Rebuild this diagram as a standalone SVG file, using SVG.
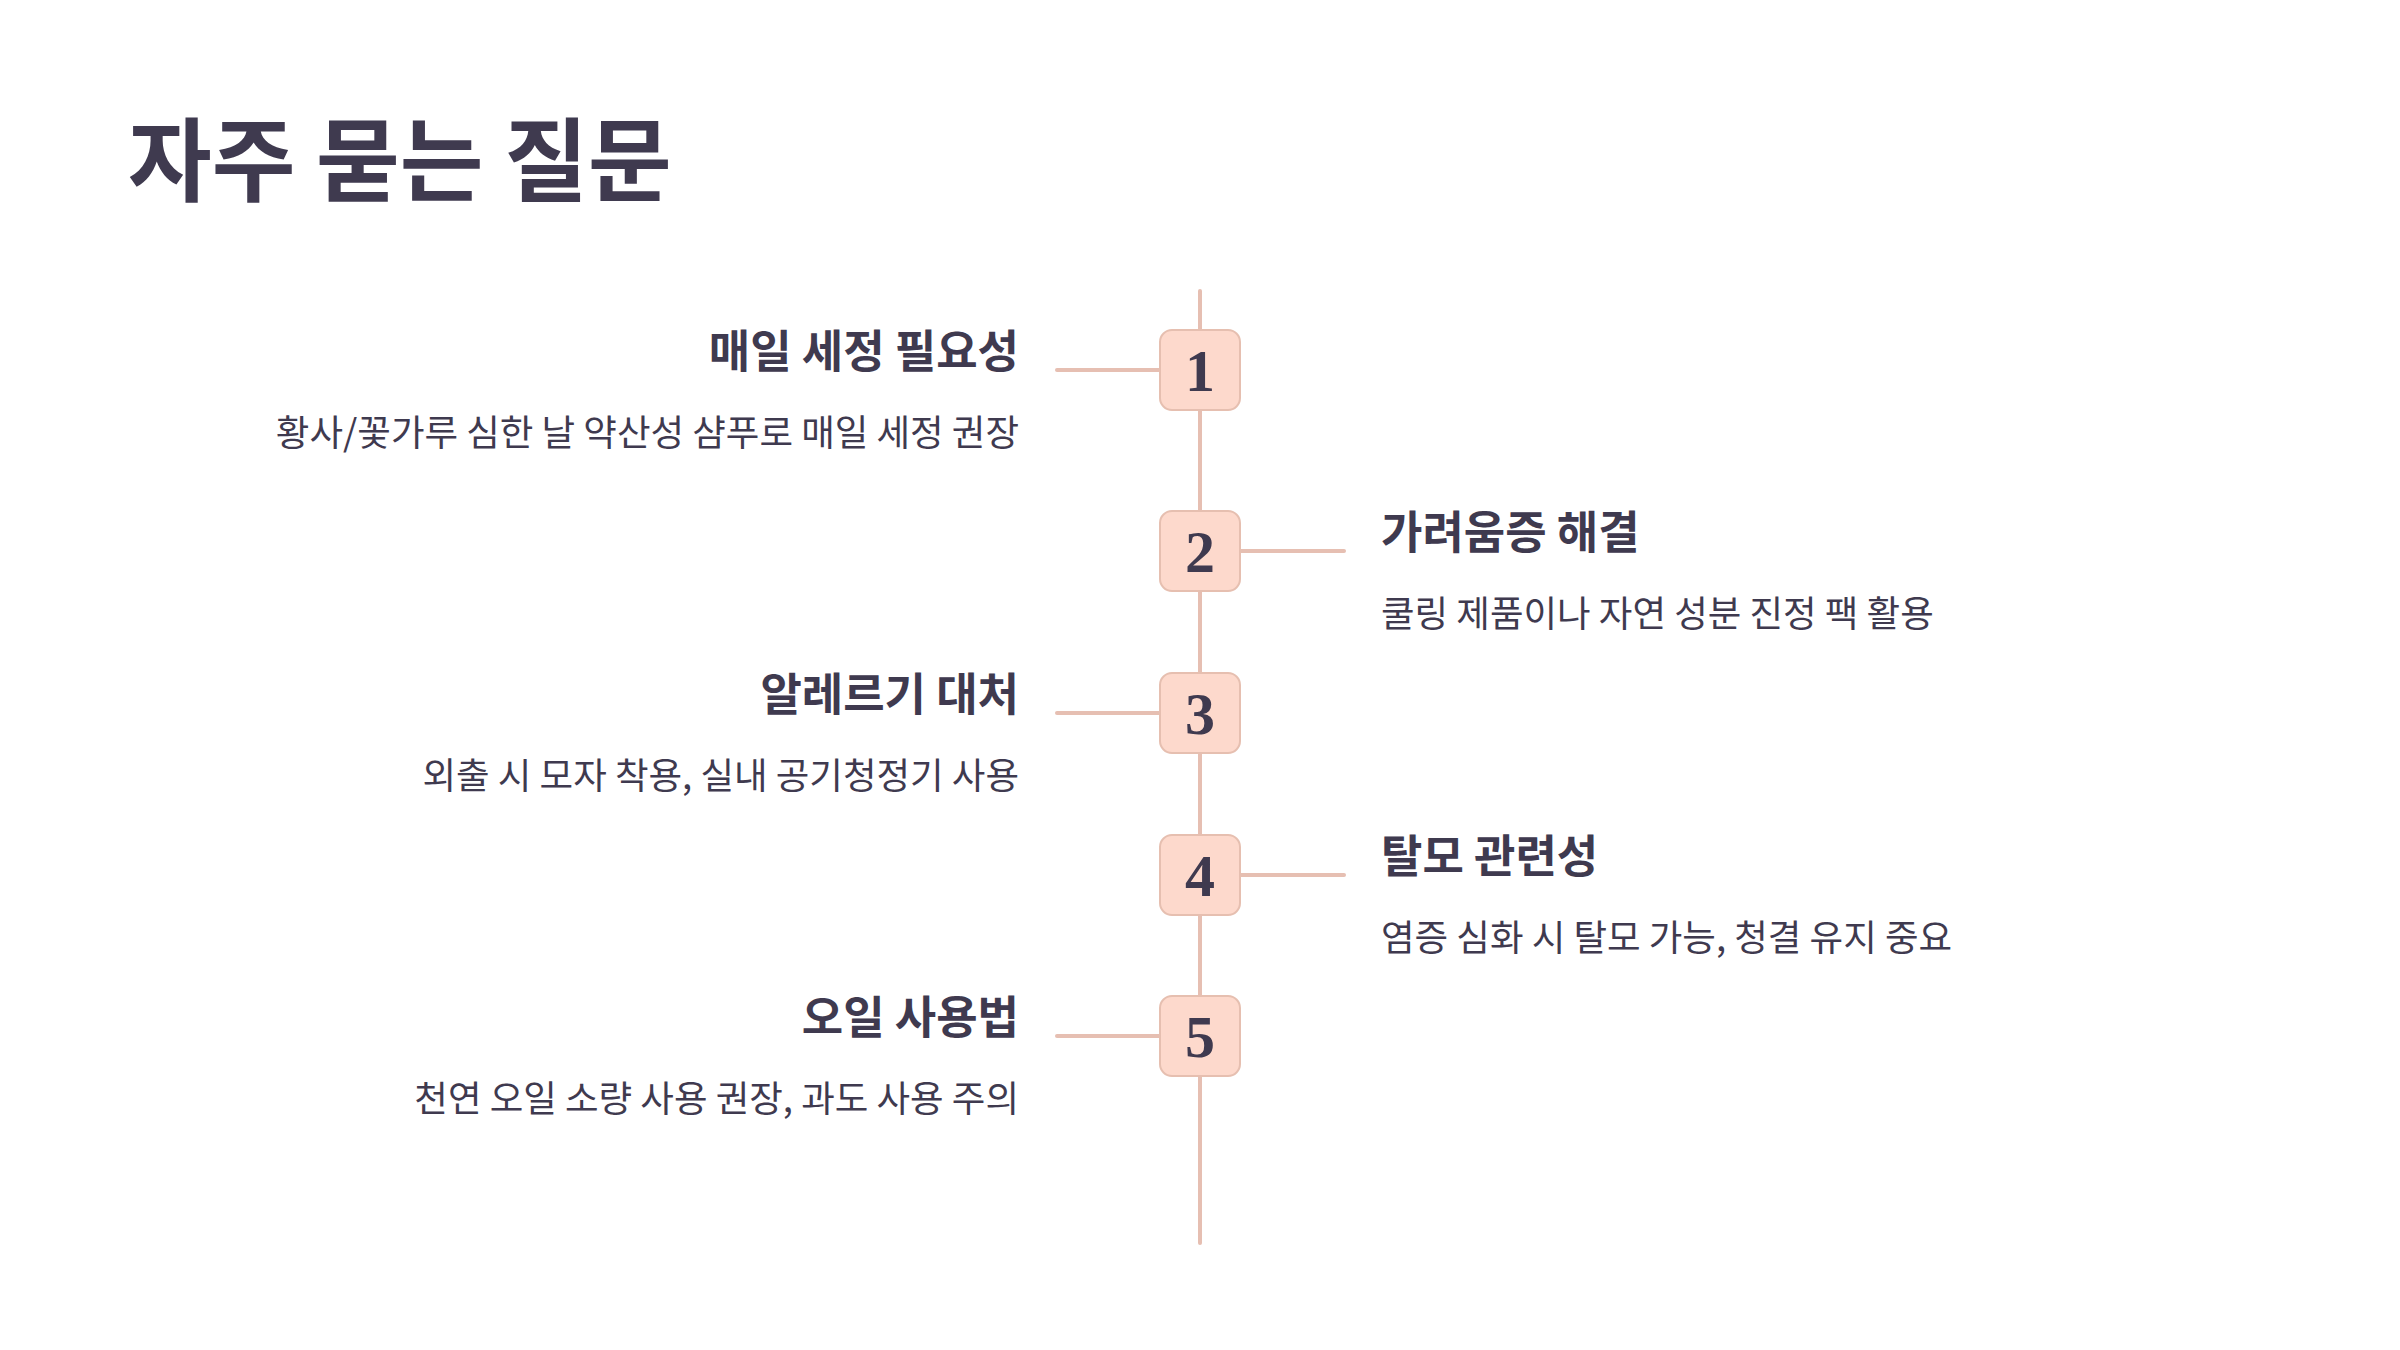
<svg xmlns="http://www.w3.org/2000/svg" width="2400" height="1350" viewBox="0 0 2400 1350">
<style>
.t{font-family:"Noto Sans CJK KR","Noto Sans",sans-serif;fill:#3f3a4f}
.h{font-size:45px;font-weight:700}
.d{font-size:36.5px;font-weight:400}
.L{text-anchor:end}
.box{fill:#fdd9cc;stroke:#e6bfb0;stroke-width:2}
.num{font-family:"Liberation Serif","DejaVu Serif",serif;font-size:60px;font-weight:700;fill:#3f3a4f;text-anchor:middle}
.ln{stroke:#e6bfb2;stroke-width:4;stroke-linecap:round;fill:none}
</style>
<rect width="2400" height="1350" fill="#ffffff"/>
<text class="t" x="128" y="194" style="font-size:91px;font-weight:700">자주 묻는 질문</text>
<g id="connectors">
<line class="ln" x1="1200" y1="291" x2="1200" y2="1243"/>
<line class="ln" x1="1057" y1="370" x2="1160" y2="370"/>
<line class="ln" x1="1240" y1="551" x2="1344" y2="551"/>
<line class="ln" x1="1057" y1="713" x2="1160" y2="713"/>
<line class="ln" x1="1240" y1="875" x2="1344" y2="875"/>
<line class="ln" x1="1057" y1="1036" x2="1160" y2="1036"/>
</g>
<g id="node1">
<rect class="box" x="1160" y="330" width="80" height="80" rx="12"/>
<text class="num" x="1200" y="391">1</text>
<text class="t h L" x="1019" y="368">매일 세정 필요성</text>
<text class="t d L" x="1019" y="446">황사/꽃가루 심한 날 약산성 샴푸로 매일 세정 권장</text>
</g>
<g id="node2">
<rect class="box" x="1160" y="511" width="80" height="80" rx="12"/>
<text class="num" x="1200" y="572">2</text>
<text class="t h" x="1381" y="549">가려움증 해결</text>
<text class="t d" x="1381" y="627">쿨링 제품이나 자연 성분 진정 팩 활용</text>
</g>
<g id="node3">
<rect class="box" x="1160" y="673" width="80" height="80" rx="12"/>
<text class="num" x="1200" y="734">3</text>
<text class="t h L" x="1019" y="711">알레르기 대처</text>
<text class="t d L" x="1019" y="789">외출 시 모자 착용, 실내 공기청정기 사용</text>
</g>
<g id="node4">
<rect class="box" x="1160" y="835" width="80" height="80" rx="12"/>
<text class="num" x="1200" y="896">4</text>
<text class="t h" x="1381" y="873">탈모 관련성</text>
<text class="t d" x="1381" y="951">염증 심화 시 탈모 가능, 청결 유지 중요</text>
</g>
<g id="node5">
<rect class="box" x="1160" y="996" width="80" height="80" rx="12"/>
<text class="num" x="1200" y="1057">5</text>
<text class="t h L" x="1019" y="1034">오일 사용법</text>
<text class="t d L" x="1019" y="1112">천연 오일 소량 사용 권장, 과도 사용 주의</text>
</g>
</svg>
